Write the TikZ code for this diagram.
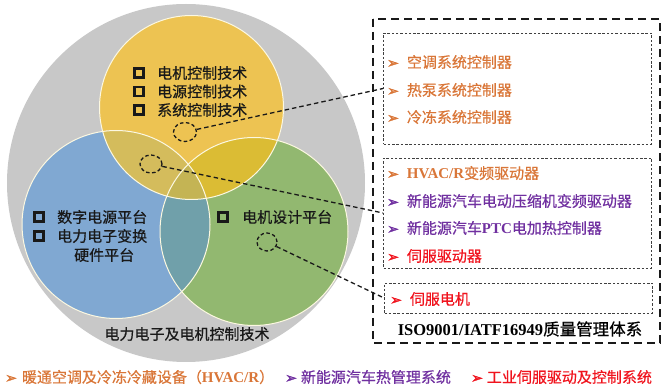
\documentclass[tikz,border=0pt]{standalone}
\usepackage{fontspec}
\setmainfont{Noto Sans CJK SC}[FakeBold=0.6]
\newfontfamily\tnr{Liberation Serif}
\newfontfamily\dv{DejaVu Sans}[FakeBold=2.5]
\usetikzlibrary{shapes.geometric}
\definecolor{cgray}{RGB}{200,200,200}
\definecolor{cyel}{RGB}{237,195,82}
\definecolor{cblue}{RGB}{128,168,210}
\definecolor{cgreen}{RGB}{146,184,112}
\definecolor{cyb}{RGB}{212,188,92}
\definecolor{cyg}{RGB}{219,188,52}
\definecolor{cbg}{RGB}{112,160,170}
\definecolor{cybg}{RGB}{196,180,84}
\definecolor{corange}{RGB}{217,118,56}
\definecolor{cpurple}{RGB}{112,48,160}
\definecolor{cred}{RGB}{240,20,30}
\definecolor{cline}{RGB}{252,248,225}
\newcommand{\arw}{{\dv\fontsize{14}{14}\selectfont ➢}}
\newcommand{\lat}[1]{{\tnr\bfseries #1}}
\tikzset{
  txt/.style={inner sep=0pt, anchor=west, font=\fontsize{15}{19}\selectfont, text=black!90},
  sq/.style={draw=black!90, line width=2.2pt, minimum size=9pt, inner sep=0pt},
  oval/.style={draw=black!90, ellipse, dashed, line width=1.3pt, dash pattern=on 3.5pt off 2.5pt, inner sep=0pt},
  conn/.style={draw=black!90, line width=1.3pt, dash pattern=on 4.5pt off 3pt},
  ibox/.style={draw=black!75, line width=0.9pt, dash pattern=on 2.5pt off 1.8pt, inner sep=0pt},
  rtxt/.style={inner sep=0pt, anchor=west, font=\fontsize{15}{15}\selectfont},
}
\begin{document}
\begin{tikzpicture}[x=1pt,y=-1pt]
\useasboundingbox (0,0) rectangle (662,387);
% big gray circle
\fill[cgray] (186,183) circle [radius=179pt];
% circle fills
\fill[cyel] (191.5,107.5) circle [radius=92pt];
\fill[cblue] (116,224.5) circle [radius=94pt];
\fill[cgreen] (254,231.5) circle [radius=94pt];
\begin{scope}
  \clip (191.5,107.5) circle [radius=92pt];
  \fill[cyb] (116,224.5) circle [radius=94pt];
  \fill[cyg] (254,231.5) circle [radius=94pt];
  \clip (116,224.5) circle [radius=94pt];
  \fill[cybg] (254,231.5) circle [radius=94pt];
\end{scope}
\begin{scope}
  \clip (116,224.5) circle [radius=94pt];
  \clip (254,231.5) circle [radius=94pt];
  \fill[cbg, even odd rule] (254,231.5) circle [radius=94pt] (191.5,107.5) circle [radius=92pt];
\end{scope}
% outlines
\draw[cline, line width=1pt] (191.5,107.5) circle [radius=92pt];
\draw[cline, line width=1pt] (116,224.5) circle [radius=94pt];
\draw[cline, line width=1pt] (254,231.5) circle [radius=94pt];

% yellow texts
\node[sq] (s1) at (139,73) {};
\node[sq] (s2) at (139,91.5) {};
\node[sq] (s3) at (139,110) {};
\node[txt] (t1) at (157,73) {电机控制技术};
\node[txt] (t2) at (157,91.5) {电源控制技术};
\node[txt] (t3) at (157,110) {系统控制技术};
% blue texts
\node[sq] (s4) at (39,217) {};
\node[sq] (s5) at (39,236) {};
\node[txt] (t4) at (57,217) {数字电源平台};
\node[txt] (t5) at (57,236) {电力电子变换};
\node[txt] (t6) at (74,255) {硬件平台};
% green text
\node[sq] (s6) at (223,217) {};
\node[txt] (t7) at (242,217) {电机设计平台};
% bottom label
\node[txt, anchor=center] (lab) at (187,334) {电力电子及电机控制技术};

% ellipses
\node[oval, minimum width=23pt, minimum height=19pt] (e1) at (185,132) {};
\node[oval, minimum width=22pt, minimum height=18pt] (e2) at (151,164) {};
\node[oval, minimum width=20pt, minimum height=18pt] (e3) at (267,242) {};

% big dashed box
\draw[black!90, line width=2pt, dash pattern=on 8pt off 5pt] (373,19) rectangle (660,343);
% inner boxes
\node[ibox, minimum width=268pt, minimum height=111pt] (b1) at (517.5,88.5) {};
\node[ibox, minimum width=268pt, minimum height=110pt] (b2) at (517.5,213) {};
\node[ibox, minimum width=268pt, minimum height=30pt] (b3) at (518.5,298) {};

% connectors
\draw[conn] (e1) -- (b1.west);
\draw[conn] (e2) -- (b2.west);
\draw[conn] (e3) -- (b3.west);

% box 1 texts
\node[rtxt, text=corange] (r1) at (387,62) {\arw\hspace{8pt}空调系统控制器};
\node[rtxt, text=corange] (r2) at (387,90) {\arw\hspace{8pt}热泵系统控制器};
\node[rtxt, text=corange] (r3) at (387,117) {\arw\hspace{8pt}冷冻系统控制器};
% box 2 texts
\node[rtxt, text=corange] (r4) at (387,173) {\arw\hspace{8pt}\lat{HVAC/R}变频驱动器};
\node[rtxt, text=cpurple] (r5) at (387,201) {\arw\hspace{8pt}新能源汽车电动压缩机变频驱动器};
\node[rtxt, text=cpurple] (r6) at (387,228) {\arw\hspace{8pt}新能源汽车\lat{PTC}电加热控制器};
\node[rtxt, text=cred] (r7) at (387,256) {\arw\hspace{8pt}伺服驱动器};
% box 3 text
\node[rtxt, text=cred] (r8) at (390,299) {\arw\hspace{8pt}伺服电机};
% ISO line
\node[inner sep=0pt, font=\fontsize{16.5}{16.5}\selectfont, text=black] (iso) at (520,329) {\lat{ISO9001/IATF16949}质量管理体系};

% bottom line
\node[rtxt, text=corange] (f1) at (5,377) {\arw\hspace{5pt}暖通空调及冷冻冷藏设备（\lat{HVAC/R}）};
\node[rtxt, text=cpurple] (f2) at (285,377) {\arw\hspace{4pt}新能源汽车热管理系统};
\node[rtxt, text=cred] (f3) at (471,377) {\arw\hspace{4pt}工业伺服驱动及控制系统};
\end{tikzpicture}
\end{document}
